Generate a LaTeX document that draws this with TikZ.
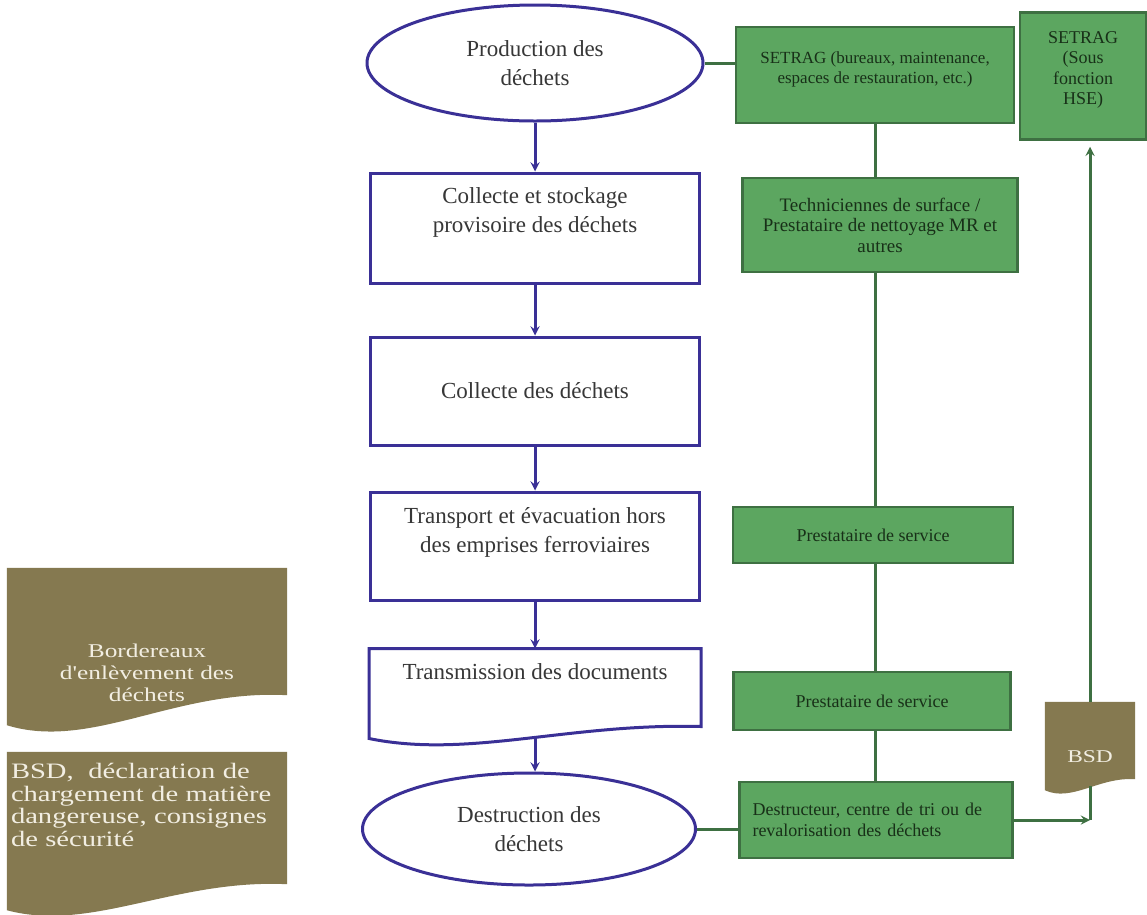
\documentclass[tikz,border=0pt]{standalone}
\usepackage{fontspec}
\setmainfont{Liberation Serif}
\newfontfamily\widefont[FakeStretch=1.3]{Liberation Serif}
\usetikzlibrary{shapes.geometric,calc}
\definecolor{flowblue}{RGB}{58,48,150}
\definecolor{actgreen}{RGB}{92,166,96}
\definecolor{actedge}{RGB}{62,112,66}
\definecolor{actink}{RGB}{24,48,24}
\definecolor{docolive}{RGB}{133,121,80}
\definecolor{docink}{RGB}{242,238,226}
\definecolor{stepink}{RGB}{55,55,55}
% rectangle with a wavy lower edge, drawn round a node
\newcommand{\docpath}[3]{(#1.north west) -- (#1.north east) -- ([yshift=#2pt]#1.south east) .. controls ($(#1.south west)!0.6!(#1.south east)+(0pt,1.2*#2pt)$) and ($(#1.south west)!0.3!(#1.south east)+(0pt,-0.8*#2pt)$) .. ([yshift=#3pt]#1.south west) -- cycle}
\begin{document}
\begin{tikzpicture}[x=1pt,y=-1pt,
  stepbox/.style={draw=flowblue,line width=3pt,fill=white,minimum width=329pt,inner sep=0pt,align=center,text=stepink,font=\fontsize{23}{29}\selectfont},
  endbox/.style={stepbox,ellipse},
  actor/.style={draw=actedge,line width=2.5pt,fill=actgreen,inner sep=0pt,align=center,text=actink,font=\fontsize{18}{20.5}\selectfont},
  paper/.style={inner sep=0pt,text=docink},
  flow/.style={draw=flowblue,line width=3pt,-stealth},
  link/.style={draw=actedge,line width=3pt},
  linkarrow/.style={link,-stealth}]
\useasboundingbox[fill=white](0,0)rectangle(1147,914);

% main chain
\node[endbox,minimum width=336pt,minimum height=116pt](prod)at(535,63){Production des\\d\'echets};
\node[stepbox,minimum height=110pt,text depth=36pt](stock)at(535,228){Collecte et stockage\\provisoire des d\'echets};
\node[stepbox,minimum height=108pt](coll)at(535,391){Collecte des d\'echets};
\node[stepbox,minimum height=108pt,text depth=32pt](trans)at(535,546){Transport et \'evacuation hors\\des emprises ferroviaires};
\node[stepbox,draw=none,fill=none,minimum height=93pt,text depth=49pt](docs)at(535,696.5){Transmission des documents};
\draw[flowblue,line width=3pt]\docpath{docs}{18}{6};
\node[endbox,minimum width=333pt,minimum height=112pt](dest)at(529,829){Destruction des\\d\'echets};

\draw[flow](prod)--(stock);
\draw[flow](stock)--(coll);
\draw[flow](coll)--(trans);
\draw[flow](trans.south)--(docs.north);
\draw[flow]([yshift=8pt]docs.south)--(dest.north-|docs.south);

% actors
\node[actor,minimum width=278pt,minimum height=96pt,text depth=14pt,font=\fontsize{17}{20}\selectfont](setrag)at(875,75){SETRAG (bureaux, maintenance,\\espaces de restauration, etc.)};
\node[actor,minimum width=126pt,minimum height=127pt,text depth=16pt](hse)at(1083,76){SETRAG\\(Sous\\fonction\\HSE)};
\node[actor,minimum width=275pt,minimum height=94pt,font=\fontsize{19}{20.5}\selectfont](tech)at(880,225){Techniciennes de surface /\\Prestataire de nettoyage MR et\\autres};
\node[actor,minimum width=280pt,minimum height=56pt](prest)at(873,535){Prestataire de service};
\node[actor,minimum width=277pt,minimum height=58pt](prestb)at(872,701){Prestataire de service};
\node[actor,minimum width=273pt,minimum height=76pt,text width=247pt,align=left](destr)at(876,820){Destructeur, centre de tri ou de\\revalorisation des d\'echets};

\draw[link](prod.east)--(prod.east-|setrag.west);
\draw[link](setrag.south)--(setrag.south|-tech.north);
\draw[link](setrag.south|-tech.south)--(setrag.south|-prest.north);
\draw[link](setrag.south|-prest.south)--(setrag.south|-prestb.north);
\draw[link](setrag.south|-prestb.south)--(setrag.south|-destr.north);
\draw[link](dest.east)--(dest.east-|destr.west);

% documents
\node[paper,minimum width=90pt,minimum height=90pt](bsd)at(1090,747){};
\fill[docolive]\docpath{bsd}{13}{2};
\node[paper,font=\widefont\fontsize{18}{22}\selectfont](bsdtext)at(1090,757){BSD};
\draw[link]([yshift=6pt]bsd.south)--(bsd.south|-destr.east);
\draw[linkarrow](destr.east)--(bsd.south|-destr.east);
\draw[linkarrow,shorten >=6pt](bsd.north)--(bsd.north|-hse.south);

\node[paper,minimum width=280pt,minimum height=158pt](bord)at(147,647){};
\fill[docolive]\docpath{bord}{31}{1};
\node[paper,align=center,font=\widefont\fontsize{19.5}{22}\selectfont](bordtext)at(147,673){Bordereaux\\d'enl\`evement des\\d\'echets};

\node[paper,minimum width=280pt,minimum height=159pt](bsdl)at(147,831.5){};
\fill[docolive]\docpath{bsdl}{27}{1};
\node[paper,text width=274pt,align=left,font=\widefont\fontsize{22}{22.5}\selectfont](bsdltext)at(148,805){BSD,\ \ d\'eclaration de\\chargement de mati\`ere\\dangereuse, consignes\\de s\'ecurit\'e};
\end{tikzpicture}
\end{document}
